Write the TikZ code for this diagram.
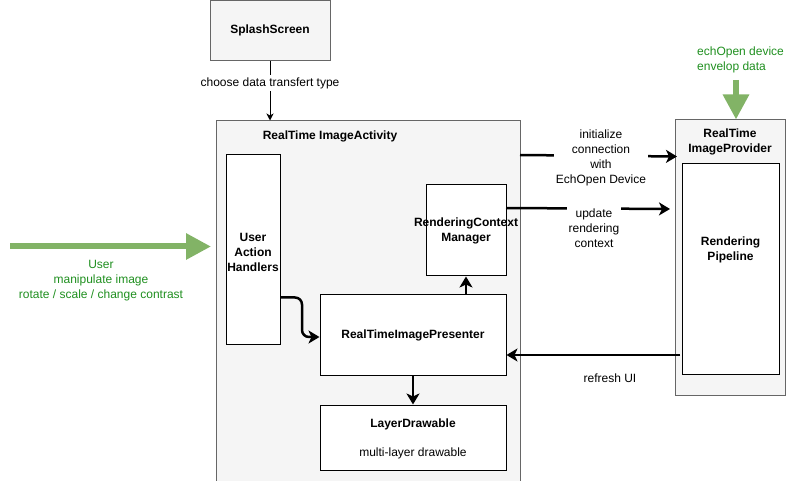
\documentclass[tikz,border=0pt]{standalone}
\usepackage{fontspec}
\setmainfont{Liberation Sans}
\usetikzlibrary{arrows.meta}
\definecolor{cfill}{HTML}{F5F5F5}
\definecolor{cstroke}{HTML}{666666}
\definecolor{gline}{HTML}{82B366}
\definecolor{gtext}{HTML}{1F8F1F}
\tikzset{
  every node/.style={font=\fontsize{12}{15}\selectfont, inner sep=0pt, align=center},
  grey box/.style={draw=cstroke, fill=cfill, line width=1pt},
  white box/.style={draw=black, fill=white, line width=1pt},
  thin arrow/.style={draw=black, line width=1pt, -{Stealth[length=7pt,width=7pt,inset=2pt]}},
  thick arrow/.style={draw=black, line width=2.5pt, -{Stealth[length=11pt,width=13pt,inset=3pt]}},
  green arrow/.style={draw=gline, line width=6pt, -{Triangle[length=25pt,width=25pt]}},
  lbl/.style={fill=white, inner sep=2pt},
}
\begin{document}
\begin{tikzpicture}[x=1pt,y=-1pt]
\useasboundingbox (0,0) rectangle (788,481);
% containers
\node[grey box, minimum width=120pt, minimum height=60pt] (splash) at (270,30.5) {\bfseries SplashScreen};
\node[grey box, minimum width=304pt, minimum height=362pt] (act) at (368,302) {};
\node[font=\fontsize{12}{15}\selectfont\bfseries] (actlbl) at (330,136) {RealTime ImageActivity};
\node[grey box, minimum width=110pt, minimum height=275pt] (prov) at (730,257.5) {};
\node[font=\fontsize{12}{15}\selectfont\bfseries] (provlbl) at (730,141.5) {RealTime\\ImageProvider};
% inner boxes
\node[white box, minimum width=54pt, minimum height=190pt] (uah) at (253,250) {};
\node[font=\fontsize{12}{15}\selectfont\bfseries] (uahlbl) at (253,252) {User\\Action\\Handlers};
\node[white box, minimum width=80pt, minimum height=91pt] (rcm) at (466,230.5) {};
\node[font=\fontsize{12}{15}\selectfont\bfseries] (rcmlbl) at (466,230.5) {RenderingContext\\Manager};
\node[white box, minimum width=186pt, minimum height=81pt] (pres) at (413,335.5) {\bfseries RealTimeImagePresenter};
\node[white box, minimum width=186pt, minimum height=65pt] (layer) at (413,437.5) {};
\node (layerlbl) at (413,424) {\bfseries LayerDrawable};
\node (layersub) at (413,453) {multi-layer drawable};
\node[white box, minimum width=97pt, minimum height=211pt] (pipe) at (730.5,269.5) {};
\node[font=\fontsize{12}{15}\selectfont\bfseries] (pipelbl) at (730.5,249.5) {Rendering\\Pipeline};
% green inputs
\coordinate (gstart) at (10,246.5);
\coordinate (gend) at (211,246.5);
\draw[green arrow] (gstart) -- (gend);
\node[text=gtext] (gl) at (101,281) {User\\manipulate image\\rotate / scale / change contrast};
\coordinate (dstart) at (736,80);
\draw[green arrow] (dstart) -- (prov.north -| dstart);
\node[text=gtext, align=left, anchor=west] (dl) at (697,60) {echOpen device\\envelop data};
% connectors
\draw[thin arrow] (splash.south) -- (splash.south |- act.north);
\node[lbl] (chl) at (270,83) {choose data transfert type};
\coordinate (initA) at (520,155);
\coordinate (initB) at (677,156.5);
\draw[thick arrow] (initA) -- (initB);
\node[lbl] (initl) at (601,157.5) {initialize\\connection\\with\\EchOpen Device};
\coordinate (updA) at (506,208);
\coordinate (updB) at (670,209);
\draw[thick arrow] (updA) -- (updB);
\node[lbl] (updl) at (594,228) {update\\rendering\\context};
\coordinate (refA) at (680,355);
\draw[thick arrow] (refA) -- (refA -| pres.east);
\node (refl) at (610,378) {refresh UI};
\draw[thick arrow] (pres.north -| rcm) -- (rcm.south);
\draw[thick arrow] (pres.south) -- (layer.north);
\coordinate (uahout) at (280,297.5);
\draw[thick arrow, rounded corners=7pt] (uahout) -- (302,297.5) -- (302,337) -- (pres.west |- 0,337);
\end{tikzpicture}
\end{document}
